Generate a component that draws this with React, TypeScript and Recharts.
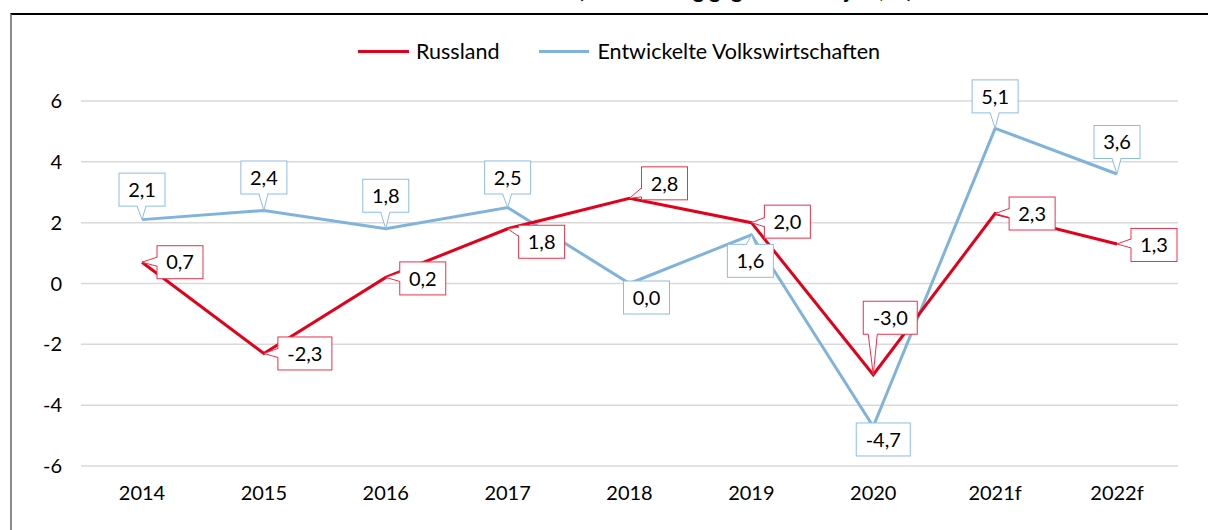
import { LineChart, Line, XAxis, YAxis, CartesianGrid, Legend } from "recharts";

const years = ["2014", "2015", "2016", "2017", "2018", "2019", "2020", "2021f", "2022f"];
const russland = [0.7, -2.3, 0.2, 1.8, 2.8, 2.0, -3.0, 2.3, 1.3];
const entwickelt = [2.1, 2.4, 1.8, 2.5, 0.0, 1.6, -4.7, 5.1, 3.6];
const yTicks = [-6, -4, -2, 0, 2, 4, 6];

// callout box centre relative to the point, in px
const ruBoxOffset = [[38, 0], [41, 0], [37, 1], [34, 13], [35, -15], [36, -1], [17, -57], [37, 0], [37, 1]];
const devBoxOffset = [[0, -30], [0, -33], [0, -33], [0, -30], [17, 14], [-1, 26], [10, 13], [0, -32], [0, -32]];

const RED = "#e2001a";
const BLUE = "#80b3dc";
const FONT = "Lato, sans-serif";

const data = years.map((year, i) => ({ year, ru: russland[i], dev: entwickelt[i] }));

const fmt = (v: number) => v.toFixed(1).replace(".", ",");
const clamp = (v: number, lo: number, hi: number) => Math.max(lo, Math.min(hi, v));

const Callout = (props: any) => {
  const { x, y, value, index, color, offsets } = props;
  if (x == null || y == null) return null;
  const [dx, dy] = offsets[index];
  const text = fmt(value);
  const w = text.length > 3 ? 54 : 46;
  const h = 33;
  const left = x + dx - w / 2;
  const top = y + dy - h / 2;
  const right = left + w;
  const bottom = top + h;

  let wedge = null;
  if (x < left || x > right || y < top || y > bottom) {
    let a: number[], b: number[], a2: number[], b2: number[];
    if (x < left || x > right) {
      const ex = x < left ? left : right;
      const inner = x < left ? 1.5 : -1.5;
      const c = clamp(y, top + 7, bottom - 7);
      a = [ex, c - 5];
      b = [ex, c + 4];
      a2 = [ex + inner, c - 5];
      b2 = [ex + inner, c + 4];
    } else {
      const ey = y > bottom ? bottom : top;
      const inner = y > bottom ? -1.5 : 1.5;
      const c = clamp(x, left + 7, right - 7);
      a = [c - 5, ey];
      b = [c + 4, ey];
      a2 = [c - 5, ey + inner];
      b2 = [c + 4, ey + inner];
    }
    wedge = (
      <g>
        <polygon points={`${a2[0]},${a2[1]} ${x},${y} ${b2[0]},${b2[1]}`} fill="#fff" stroke="none" />
        <polyline points={`${a[0]},${a[1]} ${x},${y} ${b[0]},${b[1]}`} fill="none" stroke={color} strokeWidth={1} />
      </g>
    );
  }

  return (
    <g>
      <rect x={left} y={top} width={w} height={h} fill="#fff" stroke={color} strokeWidth={1} />
      {wedge}
      <text
        x={left + w / 2}
        y={top + h / 2}
        dy="0.36em"
        textAnchor="middle"
        fontFamily={FONT}
        fontSize={20}
        fill="#000"
      >
        {text}
      </text>
    </g>
  );
};

const LegendContent = () => (
  <div
    style={{
      display: "flex",
      alignItems: "center",
      fontFamily: FONT,
      fontSize: 21.5,
      color: "#000",
      paddingLeft: 358,
    }}
  >
    <span style={{ width: 51, height: 3, background: RED, marginRight: 7 }} />
    <span style={{ marginRight: 40 }}>Russland</span>
    <span style={{ width: 50, height: 3, background: BLUE, marginRight: 8 }} />
    <span>Entwickelte Volkswirtschaften</span>
  </div>
);

export default function App() {
  return (
    <div style={{ position: "absolute", left: 0, top: 0, width: 1208, height: 530, overflow: "hidden", background: "#fff" }}>
      <svg width={1208} height={20} style={{ position: "absolute", left: 0, top: 0 }}>
        <text x={640} y={-2} textAnchor="middle" fontFamily={FONT} fontSize={21} fontWeight="bold" fill="#000">
          Reales BIP-Wachstum (Veränderung gegenüber Vorjahr, %)
        </text>
      </svg>
      <div
        style={{
          position: "absolute",
          left: 10,
          top: 13,
          width: 1300,
          height: 600,
          borderTop: "2px solid #000",
          borderLeft: "2px solid #8a8a8a",
        }}
      />
      <div style={{ position: "absolute", left: 0, top: 0 }}>
        <LineChart width={1208} height={530} data={data} margin={{ top: 101, right: 30, bottom: 0, left: 0 }}>
          <CartesianGrid vertical={false} stroke="#d9d9d9" strokeWidth={1.5} />
          <XAxis
            dataKey="year"
            axisLine={false}
            tickLine={false}
            tickSize={0}
            tickMargin={20}
            height={64}
            padding={{ left: 61, right: 61 }}
            tick={{ fill: "#000", fontSize: 20, fontFamily: FONT }}
          />
          <YAxis
            domain={[-6, 6]}
            ticks={yTicks}
            axisLine={false}
            tickLine={false}
            tickSize={0}
            tickMargin={19}
            width={81}
            tick={{ fill: "#000", fontSize: 20, fontFamily: FONT }}
          />
          <Legend
            verticalAlign="middle"
            layout="horizontal"
            wrapperStyle={{ top: 38, left: 0, width: 1208 }}
            content={LegendContent}
          />
          <Line dataKey="dev" name="Entwickelte Volkswirtschaften" stroke={BLUE} strokeWidth={3} dot={false} activeDot={false} isAnimationActive={false} />
          <Line dataKey="ru" name="Russland" stroke={RED} strokeWidth={3} dot={false} activeDot={false} isAnimationActive={false} />
          <Line
            dataKey="ru"
            legendType="none"
            stroke="none"
            dot={false}
            activeDot={false}
            isAnimationActive={false}
            label={(p: any) => <Callout {...p} color="#e8324b" offsets={ruBoxOffset} />}
          />
          <Line
            dataKey="dev"
            legendType="none"
            stroke="none"
            dot={false}
            activeDot={false}
            isAnimationActive={false}
            label={(p: any) => <Callout {...p} color="#8ebde2" offsets={devBoxOffset} />}
          />
        </LineChart>
      </div>
    </div>
  );
}
